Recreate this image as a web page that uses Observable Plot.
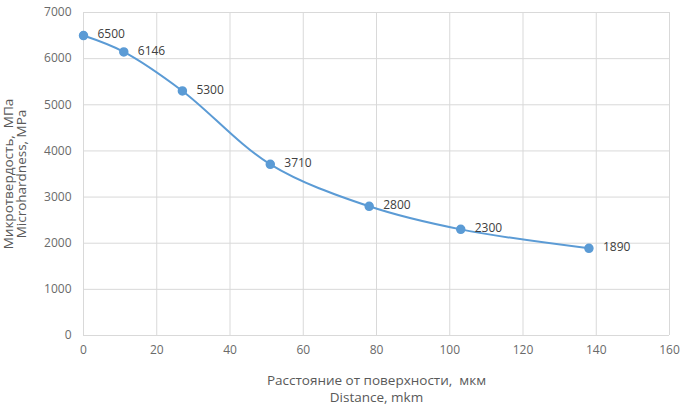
<!DOCTYPE html>
<html>
<head>
<meta charset="utf-8">
<script src="https://cdn.jsdelivr.net/npm/d3@7"></script>
<script src="https://cdn.jsdelivr.net/npm/@observablehq/plot@0.6"></script>
<style>
  html, body { margin: 0; padding: 0; background: #fff; }
  #chart svg { display: block; }
</style>
</head>
<body>
<div id="chart"></div>
<script>
const distance = [0, 11, 27, 51, 78, 103, 138];
const hardness = [6500, 6146, 5300, 3710, 2800, 2300, 1890];
const xTicks = [0, 20, 40, 60, 80, 100, 120, 140, 160];
const yTicks = [0, 1000, 2000, 3000, 4000, 5000, 6000, 7000];
const xTitle = "Расстояние от поверхности,  мкм\nDistance, mkm";
const yTitle = "Микротвердость,  МПа\nMicrohardness, MPa";

const data = distance.map((d, i) => ({x: d, y: hardness[i]}));
const blue = "#5b9bd5";

const chart = Plot.plot({
  width: 683,
  height: 407,
  marginLeft: 83,
  marginRight: 14,
  marginTop: 12,
  marginBottom: 72,
  style: {fontFamily: "Open Sans, Calibri, sans-serif", fontSize: "12px", color: "#6a6a6a", background: "#fff"},
  x: {domain: [0, 160], ticks: xTicks, tickSize: 0, tickPadding: 10, label: null},
  y: {domain: [0, 7000], ticks: yTicks, tickSize: 0, tickPadding: 12, label: null},
  marks: [
    Plot.gridX(xTicks, {stroke: "#d9d9d9", strokeOpacity: 1}),
    Plot.gridY(yTicks, {stroke: "#d9d9d9", strokeOpacity: 1}),
    Plot.axisX({ticks: xTicks, tickSize: 0, tickPadding: 10, label: null, fill: "#6a6a6a", tickFormat: d => String(d)}),
    Plot.axisY({ticks: yTicks, tickSize: 0, tickPadding: 12, label: null, fill: "#6a6a6a", tickFormat: d => String(d)}),
    Plot.line(data, {x: "x", y: "y", curve: "catmull-rom", stroke: blue, strokeWidth: 2}),
    Plot.dot(data, {x: "x", y: "y", r: 4, fill: blue, stroke: blue}),
    Plot.text(data, {x: "x", y: "y", text: d => String(d.y), textAnchor: "start", dx: 14, dy: -1, fill: "#404040", fontSize: 12}),
    Plot.text([xTitle], {frameAnchor: "bottom", textAnchor: "middle", dy: 66, text: d => d, fill: "#595959", fontSize: 13.5, lineHeight: 1.25}),
    Plot.text([yTitle], {frameAnchor: "left", textAnchor: "middle", dx: -68, rotate: -90, text: d => d, fill: "#595959", fontSize: 13.5, lineHeight: 0.98})
  ]
});
document.getElementById("chart").appendChild(chart);
</script>
</body>
</html>
